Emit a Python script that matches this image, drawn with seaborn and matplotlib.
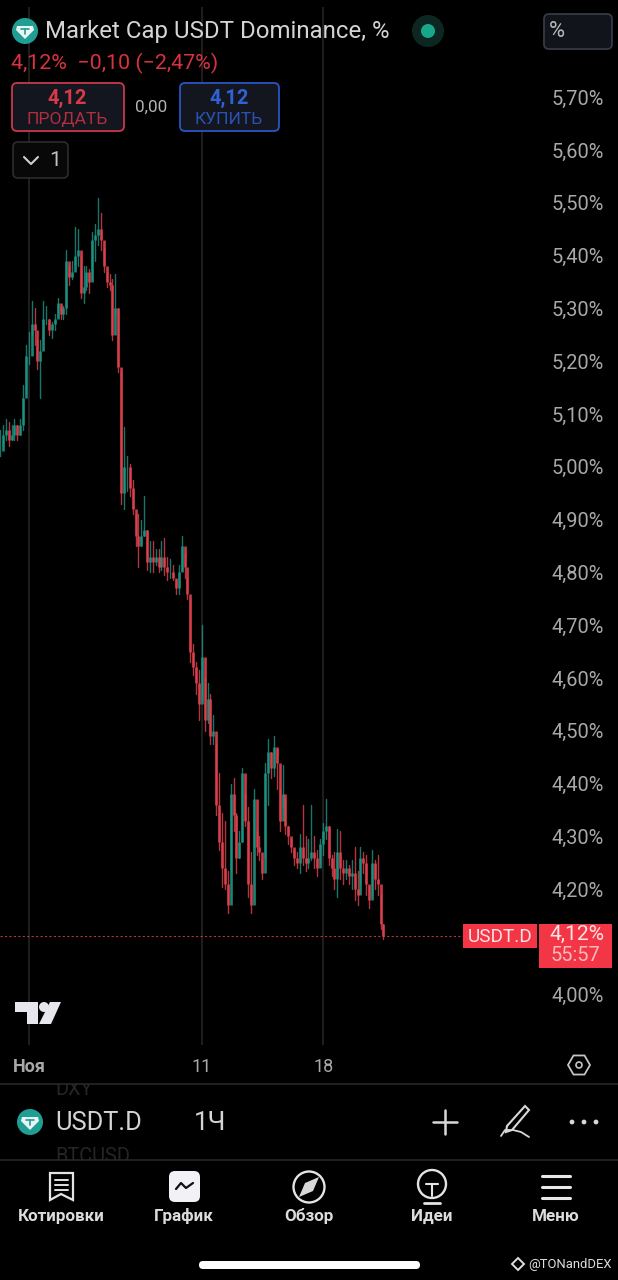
import numpy as np
import pandas as pd
import seaborn as sns
import matplotlib.pyplot as plt
from matplotlib.patches import FancyBboxPatch, Circle, Rectangle, Polygon

# 4h candles (values in %)
first_day = -0.68
highs = [5.07, 5.08, 5.09, 5.085, 5.08, 5.09, 5.08, 5.09, 5.155, 5.23,
         5.255, 5.315, 5.30, 5.24, 5.24, 5.315, 5.305, 5.28, 5.275, 5.29,
         5.32, 5.305, 5.305, 5.41, 5.38, 5.39, 5.455, 5.45, 5.40, 5.38,
         5.38, 5.375, 5.445, 5.46, 5.51, 5.48, 5.415, 5.37, 5.365, 5.355,
         5.365, 5.30, 5.18, 5.075, 5.02, 5.005, 4.975, 4.91, 4.91, 4.90,
         4.945, 4.88, 4.86, 4.86, 4.845, 4.845, 4.86, 4.865, 4.83, 4.825,
         4.815, 4.785, 4.815, 4.87, 4.835, 4.79, 4.75, 4.665, 4.63, 4.615,
         4.70, 4.60, 4.59, 4.57, 4.53, 4.475, 4.42, 4.345, 4.33, 4.235,
         4.40, 4.41, 4.345, 4.31, 4.43, 4.38, 4.355, 4.27, 4.39, 4.31,
         4.30, 4.255, 4.44, 4.485, 4.46, 4.49, 4.465, 4.39, 4.435, 4.37,
         4.32, 4.295, 4.275, 4.27, 4.305, 4.36, 4.30, 4.295, 4.36, 4.30,
         4.275, 4.295, 4.325, 4.37, 4.32, 4.265, 4.27, 4.315, 4.31, 4.255,
         4.255, 4.245, 4.255, 4.28, 4.235, 4.28, 4.27, 4.265, 4.205, 4.275,
         4.255, 4.265, 4.19, 4.135]
lows = [5.02, 5.04, 5.05, 5.04, 5.05, 5.05, 5.05, 5.06, 5.07, 5.14,
        5.195, 5.25, 5.23, 5.185, 5.13, 5.24, 5.27, 5.25, 5.245, 5.26,
        5.285, 5.28, 5.28, 5.29, 5.345, 5.355, 5.385, 5.38, 5.32, 5.31,
        5.335, 5.33, 5.355, 5.39, 5.42, 5.41, 5.37, 5.34, 5.335, 5.24,
        5.285, 5.18, 4.93, 4.92, 4.955, 4.945, 4.91, 4.85, 4.81, 4.85,
        4.87, 4.805, 4.80, 4.80, 4.815, 4.80, 4.805, 4.795, 4.785, 4.79,
        4.785, 4.76, 4.76, 4.805, 4.79, 4.75, 4.63, 4.605, 4.57, 4.52,
        4.56, 4.50, 4.515, 4.475, 4.475, 4.34, 4.275, 4.205, 4.20, 4.155,
        4.235, 4.31, 4.23, 4.26, 4.29, 4.32, 4.185, 4.155, 4.28, 4.265,
        4.255, 4.22, 4.26, 4.36, 4.41, 4.415, 4.39, 4.31, 4.355, 4.305,
        4.285, 4.27, 4.245, 4.24, 4.23, 4.245, 4.235, 4.24, 4.255, 4.24,
        4.225, 4.25, 4.265, 4.295, 4.245, 4.225, 4.20, 4.185, 4.22, 4.21,
        4.22, 4.21, 4.20, 4.18, 4.17, 4.21, 4.23, 4.19, 4.165, 4.19,
        4.20, 4.19, 4.125, 4.105]
closes = [5.03, 5.06, 5.07, 5.05, 5.06, 5.08, 5.06, 5.08, 5.13, 5.21,
          5.21, 5.27, 5.26, 5.20, 5.22, 5.28, 5.28, 5.26, 5.27, 5.28,
          5.31, 5.29, 5.30, 5.39, 5.36, 5.37, 5.40, 5.41, 5.33, 5.34,
          5.37, 5.35, 5.43, 5.44, 5.45, 5.43, 5.38, 5.35, 5.345, 5.25,
          5.30, 5.19, 4.95, 5.00, 5.00, 4.96, 4.92, 4.87, 4.85, 4.87,
          4.88, 4.82, 4.83, 4.82, 4.83, 4.81, 4.83, 4.81, 4.80, 4.80,
          4.79, 4.77, 4.80, 4.85, 4.81, 4.76, 4.65, 4.62, 4.59, 4.55,
          4.64, 4.52, 4.56, 4.49, 4.50, 4.36, 4.29, 4.24, 4.21, 4.17,
          4.38, 4.34, 4.26, 4.29, 4.42, 4.33, 4.21, 4.17, 4.37, 4.28,
          4.27, 4.23, 4.42, 4.46, 4.43, 4.47, 4.44, 4.33, 4.38, 4.32,
          4.30, 4.28, 4.26, 4.25, 4.28, 4.26, 4.25, 4.26, 4.27, 4.26,
          4.24, 4.285, 4.31, 4.32, 4.26, 4.24, 4.22, 4.27, 4.24, 4.23,
          4.24, 4.225, 4.23, 4.20, 4.19, 4.26, 4.25, 4.21, 4.18, 4.25,
          4.22, 4.21, 4.135, 4.112]
price_ticks = [5.7, 5.6, 5.5, 5.4, 5.3, 5.2, 5.1, 5.0, 4.9, 4.8, 4.7, 4.6, 4.5, 4.4, 4.3, 4.2, 4.0]
price_labels = ['5,70%', '5,60%', '5,50%', '5,40%', '5,30%', '5,20%', '5,10%', '5,00%', '4,90%',
                '4,80%', '4,70%', '4,60%', '4,50%', '4,40%', '4,30%', '4,20%', '4,00%']
day_ticks = [1, 11, 18]
day_labels = ['Ноя', '11', '18']
nav_labels = ['Котировки', 'График', 'Обзор', 'Идеи', 'Меню']

RED = '#e2424f'
GREEN = '#1f9483'
GRID = '#282828'
TXT = '#a8a8a8'
PANEL = '#14161f'

sns.set_theme(style='dark', rc={'figure.facecolor': 'black', 'axes.facecolor': 'black'})
plt.rcParams['font.family'] = ['Roboto', 'DejaVu Sans']

fig = plt.figure(figsize=(6.18, 12.8), dpi=100)
# chart area is 0..538 px wide, 7..1045 px down
ax = fig.add_axes([0, 1 - 1045 / 1280, 538 / 618, (1045 - 7) / 1280])

df = pd.DataFrame({'high': highs, 'low': lows, 'close': closes})
df['open'] = df['close'].shift(1).fillna(df['close'])
df['candle'] = df.index
df['day'] = first_day + df.index / 6
df['side'] = np.where(df['close'] >= df['open'], 'up', 'down')

wicks = df.melt(id_vars=['candle', 'day', 'side'], value_vars=['high', 'low'], value_name='price')
bodies = df.melt(id_vars=['candle', 'day', 'side'], value_vars=['open', 'close'], value_name='price')
pal = {'up': GREEN, 'down': RED}
sns.lineplot(data=wicks, x='day', y='price', units='candle', hue='side', palette=pal, estimator=None,
             lw=1.0, alpha=0.8, legend=False, ax=ax)
sns.lineplot(data=bodies, x='day', y='price', units='candle', hue='side', palette=pal, estimator=None,
             lw=1.9, alpha=0.9, legend=False, ax=ax, solid_capstyle='butt')

ax.set_xlim(first_day, 30.42)
ax.set_ylim(3.905, 5.871)
ax.axhline(closes[-1], color=RED, lw=0.8, ls=(0, (2, 2)), alpha=0.8)
ax.set_yticks(price_ticks, price_labels)
ax.yaxis.tick_right()
ax.set_xticks(day_ticks, day_labels)
ax.tick_params(axis='y', length=0, pad=9.4, labelsize=14.4, labelcolor=TXT)
ax.tick_params(axis='x', length=0, pad=9, labelsize=13, labelcolor=TXT)
ax.get_xticklabels()[0].set_fontweight('bold')
ax.set_xlabel('')
ax.set_ylabel('')
ax.grid(axis='x', color=GRID, lw=1.1)
ax.grid(axis='y', visible=False)
sns.despine(ax=ax, left=True, bottom=True, right=True, top=True)

# phone UI on top, in pixel coordinates
ui = fig.add_axes([0, 0, 1, 1], zorder=5)
ui.set_xlim(0, 618)
ui.set_ylim(1280, 0)
ui.axis('off')
ui.patch.set_alpha(0)


def box(x0, y0, x1, y1, face, edge, lw=1.3, r=5, z=2):
    ui.add_patch(FancyBboxPatch((x0 + r, y0 + r), x1 - x0 - 2 * r, y1 - y0 - 2 * r,
                                boxstyle=f'round,pad={r},rounding_size={r}', fc=face, ec=edge, lw=lw, zorder=z))


def label(x, y, s, px, color, ha='center', weight='normal', z=4):
    ui.text(x, y + 1.5, s, fontsize=px * 0.72, color=color, ha=ha, va='center', fontweight=weight, zorder=z)


def tether(cx, cy):
    ui.add_patch(Circle((cx, cy), 13, fc='#1f9e94', ec='none', zorder=3))
    ui.add_patch(Polygon([(cx - 8, cy - 5), (cx + 8, cy - 5), (cx + 9, cy - 1), (cx, cy + 8), (cx - 9, cy - 1)],
                         fc='#e9f5f3', ec='none', zorder=4))
    ui.plot([cx - 4, cx + 4], [cy - 2, cy - 2], color='#1f9e94', lw=1.2, zorder=5)
    ui.plot([cx, cx], [cy - 2, cy + 3], color='#1f9e94', lw=1.2, zorder=5)


# header
tether(25, 31)
label(45, 30, 'Market Cap USDT Dominance, %', 24, '#d4d4d4', ha='left')
ui.add_patch(Circle((428, 31), 16, fc='#0c2722', ec='none'))
ui.add_patch(Circle((428, 31), 7, fc='#17a88b', ec='none'))
box(544, 14, 612, 49, '#12141c', '#363a45')
label(549, 30, '%', 22, '#b8b8b8', ha='left')
label(11, 62, '4,12%  −0,10 (−2,47%)', 21.4, '#d8323f', ha='left')

box(12, 83, 124, 131, PANEL, '#c8384a')
label(67, 97, '4,12', 20, '#d83a4a', weight='bold')
label(67, 118, 'ПРОДАТЬ', 17.5, '#b02f3e')
label(151, 106, '0,00', 17, '#b4b4b4')
box(180, 83, 279, 131, PANEL, '#2a55c4')
label(229, 97, '4,12', 20, '#2f62d8', weight='bold')
label(229, 118, 'КУПИТЬ', 17.5, '#2a52b4')
box(13, 142, 68, 178, '#080808', '#303030', lw=1.1)
ui.plot([24, 31, 38], [157, 164, 157], color='#d0d0d0', lw=1.5, zorder=4)
label(55, 159, '1', 21, '#c0c0c0')

# last price tags
ui.add_patch(Rectangle((463, 924), 74, 24, fc='#f23645', ec='none', zorder=3))
ui.add_patch(Rectangle((539, 924), 73, 44, fc='#f23645', ec='none', zorder=3))
label(500, 935, 'USDT.D', 19, '#fde3e5')
label(577, 933, '4,12%', 21, '#fde3e5')
label(575, 954, '55:57', 20, '#f9b9be')

# tradingview mark
ui.add_patch(Polygon([(15, 1002), (38, 1002), (38, 1024), (27, 1024), (27, 1012), (15, 1012)], fc='#e6e6ec', ec='none'))
ui.add_patch(Circle((44, 1007), 5, fc='#e6e6ec', ec='none'))
ui.add_patch(Polygon([(50, 1002), (61, 1002), (51, 1024), (39, 1024)], fc='#e6e6ec', ec='none'))

# settings hexagon
ang = np.radians([0, 60, 120, 180, 240, 300])
ui.add_patch(Polygon(np.column_stack([579 + 11 * np.cos(ang), 1065 + 11 * np.sin(ang)]), fc='none', ec='#c4c4c4', lw=1.3))
ui.add_patch(Circle((579, 1065), 3, fc='none', ec='#c4c4c4', lw=1.2))

# symbol row, with list names showing through behind it
label(55, 1088, 'DXY', 20, '#252525', ha='left', z=1)
label(55, 1155, 'BTCUSD', 20, '#252525', ha='left', z=1)
ui.add_patch(Rectangle((50, 1076), 70, 8, fc='black', ec='none', zorder=2))
ui.add_patch(Rectangle((50, 1160), 120, 10, fc='black', ec='none', zorder=2))
ui.plot([0, 618], [1084, 1084], color='#2a2a2a', lw=1.1, zorder=3)
ui.plot([0, 618], [1160, 1160], color='#2a2a2a', lw=1.1, zorder=3)
tether(30, 1122)
label(55, 1122, 'USDT.D', 25.5, '#d4d4d4', ha='left')
label(210, 1122, '1Ч', 26, '#d4d4d4')
ui.plot([433, 457], [1122, 1122], color='#d8d8d8', lw=1.8)
ui.plot([445, 445], [1110, 1134], color='#d8d8d8', lw=1.8)
ui.add_patch(Polygon([(525, 1106), (529, 1110), (512, 1130), (506, 1132), (507, 1126)], fc='none', ec='#d8d8d8', lw=1.5))
ui.plot([501, 505, 513, 521, 529], [1136, 1130, 1130, 1132, 1137], color='#d8d8d8', lw=1.3)
for cx in [572, 584, 596]:
    ui.add_patch(Circle((cx, 1122), 2.4, fc='#d8d8d8', ec='none'))

# bottom nav
nav_x = [61, 184, 309, 432, 556]
for cx, s in zip(nav_x, nav_labels):
    label(cx, 1215, s, 17, '#dcdcdc', weight='bold')
ui.add_patch(Polygon([(50, 1173), (73, 1173), (73, 1200), (61, 1194), (50, 1200)], fc='none', ec='#e4e4e4', lw=1.6))
for yy in [1180, 1185, 1190]:
    ui.plot([55, 68], [yy, yy], color='#e4e4e4', lw=1.4)
box(169, 1171, 200, 1202, '#f2f2f6', 'none', r=6)
ui.plot([176, 181, 186, 193], [1189, 1183, 1188, 1183], color='#111111', lw=1.6, zorder=4)
ui.add_patch(Circle((309, 1187), 15.5, fc='none', ec='#e4e4e4', lw=1.7))
ui.add_patch(Polygon([(319, 1177), (313, 1191), (299, 1197), (305, 1183)], fc='#d8d8d8', ec='none'))
ui.add_patch(Circle((432, 1184), 14, fc='none', ec='#e4e4e4', lw=1.7))
ui.plot([426, 438], [1184, 1184], color='#e4e4e4', lw=1.5)
ui.plot([432, 432], [1184, 1196], color='#e4e4e4', lw=1.5)
ui.plot([424, 440], [1203, 1203], color='#e4e4e4', lw=2.0)
for yy in [1176, 1187, 1198]:
    ui.plot([542, 570], [yy, yy], color='#e8e8e8', lw=2.2)

# home bar and watermark
ui.add_patch(FancyBboxPatch((199, 1261), 221, 8, boxstyle='round,pad=0,rounding_size=4', fc='white', ec='none'))
ui.add_patch(Polygon([(518, 1258), (524, 1264), (518, 1270), (512, 1264)], fc='none', ec='#dddddd', lw=1.4))
label(528, 1263, '@TONandDEX', 13, '#dddddd', ha='left')

fig.savefig('out.png', dpi=100, facecolor='black')
